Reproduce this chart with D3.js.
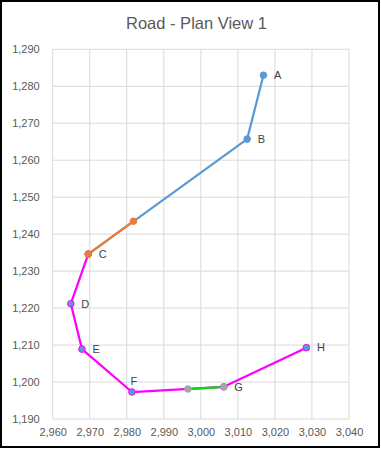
<!DOCTYPE html>
<html><head><meta charset="utf-8">
<script src="https://cdn.jsdelivr.net/npm/d3@7"></script>
<style>body{margin:0;background:#fff}svg{display:block}</style>
</head><body>
<svg id="c" width="381" height="450"></svg>
<script>
const title = "Road - Plan View 1";
const xTicks = [2960,2970,2980,2990,3000,3010,3020,3030,3040];
const yTicks = [1190,1200,1210,1220,1230,1240,1250,1260,1270,1280,1290];
// series: blue A-B-C
const blueX = [3016.9, 3012.5, 2969.6];
const blueY = [1283.0, 1265.7, 1234.6];
const blueLabels = ["A","B",""];
// orange overlay
const orangeX = [2981.8, 2969.6];
const orangeY = [1243.5, 1234.6];
const orangeLabels = ["","C"];
// magenta C-D-E-F-G-H
const magX = [2969.6, 2964.9, 2967.9, 2981.4, 3006.2, 3028.5];
const magY = [1234.6, 1221.2, 1208.9, 1197.3, 1198.7, 1209.3];
const magLabels = ["","D","E","F","","H"];
// green overlay
const greenX = [2996.5, 3006.2];
const greenY = [1198.1, 1198.7];
const greenLabels = ["","G"];

const svg = d3.select("#c");
const x = d3.scaleLinear().domain([2960,3040]).range([52.7,349]);
const y = d3.scaleLinear().domain([1190,1290]).range([419,49.3]);
const fmt = d3.format(",");
const font = "'Liberation Sans', Arial, sans-serif";

svg.append("rect").attr("x",1).attr("y",1).attr("width",378).attr("height",446)
  .attr("fill","#fff").attr("stroke","#000").attr("stroke-width",2);

svg.append("text").attr("x",196.5).attr("y",28.5).attr("text-anchor","middle")
  .attr("font-family",font).attr("font-size",16.5).attr("fill","#595959").text(title);

const grid = svg.append("g");
grid.selectAll("line.v").data(xTicks).join("line").attr("class","v")
  .attr("x1",d=>x(d)).attr("x2",d=>x(d)).attr("y1",y(1290)).attr("y2",y(1190))
  .attr("stroke","#d9d9d9").attr("stroke-width",1);
grid.selectAll("line.h").data(yTicks).join("line").attr("class","h")
  .attr("y1",d=>y(d)).attr("y2",d=>y(d)).attr("x1",x(2960)).attr("x2",x(3040))
  .attr("stroke","#d9d9d9").attr("stroke-width",1);

const yAxis = d3.axisLeft(y).tickValues(yTicks).tickFormat(fmt).tickSize(0).tickPadding(13);
const gy = svg.append("g").attr("transform",`translate(${x(2960)},0)`).call(yAxis);
const xAxis = d3.axisBottom(x).tickValues(xTicks).tickFormat(fmt).tickSize(0).tickPadding(9);
const gx = svg.append("g").attr("transform",`translate(0,${y(1190)})`).call(xAxis);
[gx,gy].forEach(g=>{
  g.select(".domain").remove();
  g.selectAll("text").attr("font-family",font).attr("font-size",11).attr("fill","#595959");
});

function series(xs, ys, color, mFill, mStroke, labels, labelPos){
  const pts = xs.map((v,i)=>({x:v,y:ys[i],l:labels[i],p:labelPos?labelPos[i]:"r"}));
  const line = d3.line().x(d=>x(d.x)).y(d=>y(d.y));
  svg.append("path").datum(pts).attr("d",line).attr("fill","none")
    .attr("stroke",color).attr("stroke-width",2.25).attr("stroke-linejoin","round");
  return {pts, mFill, mStroke};
}
function markers(s){
  svg.append("g").selectAll("circle").data(s.pts).join("circle")
    .attr("cx",d=>x(d.x)).attr("cy",d=>y(d.y)).attr("r",3.3)
    .attr("fill",s.mFill).attr("stroke",s.mStroke).attr("stroke-width",1);
}
function labels(s){
  svg.append("g").selectAll("text").data(s.pts.filter(d=>d.l)).join("text")
    .attr("x",d=>d.p==="t"?x(d.x)+2:x(d.x)+10.5)
    .attr("y",d=>d.p==="t"?y(d.y)-11:y(d.y))
    .attr("dy","0.35em")
    .attr("text-anchor",d=>d.p==="t"?"middle":"start")
    .attr("font-family",font).attr("font-size",11).attr("fill","#404040")
    .text(d=>d.l);
}
const sBlue = series(blueX, blueY, "#5b9bd5", "#5b9bd5", "#5b9bd5", blueLabels);
const sMag = series(magX, magY, "#ff00ff", "#5b9bd5", "#ff00ff", magLabels, ["r","r","r","t","r","r"]);
const sOr = series(orangeX, orangeY, "#ed7d31", "#ed7d31", "#ed7d31", orangeLabels);
const sGr = series(greenX, greenY, "#00e000", "#a5a5a5", "#a5a5a5", greenLabels);
markers(sBlue); markers(sMag); markers(sOr); markers(sGr);
[sBlue,sMag,sOr,sGr].forEach(labels);
</script>
</body></html>
